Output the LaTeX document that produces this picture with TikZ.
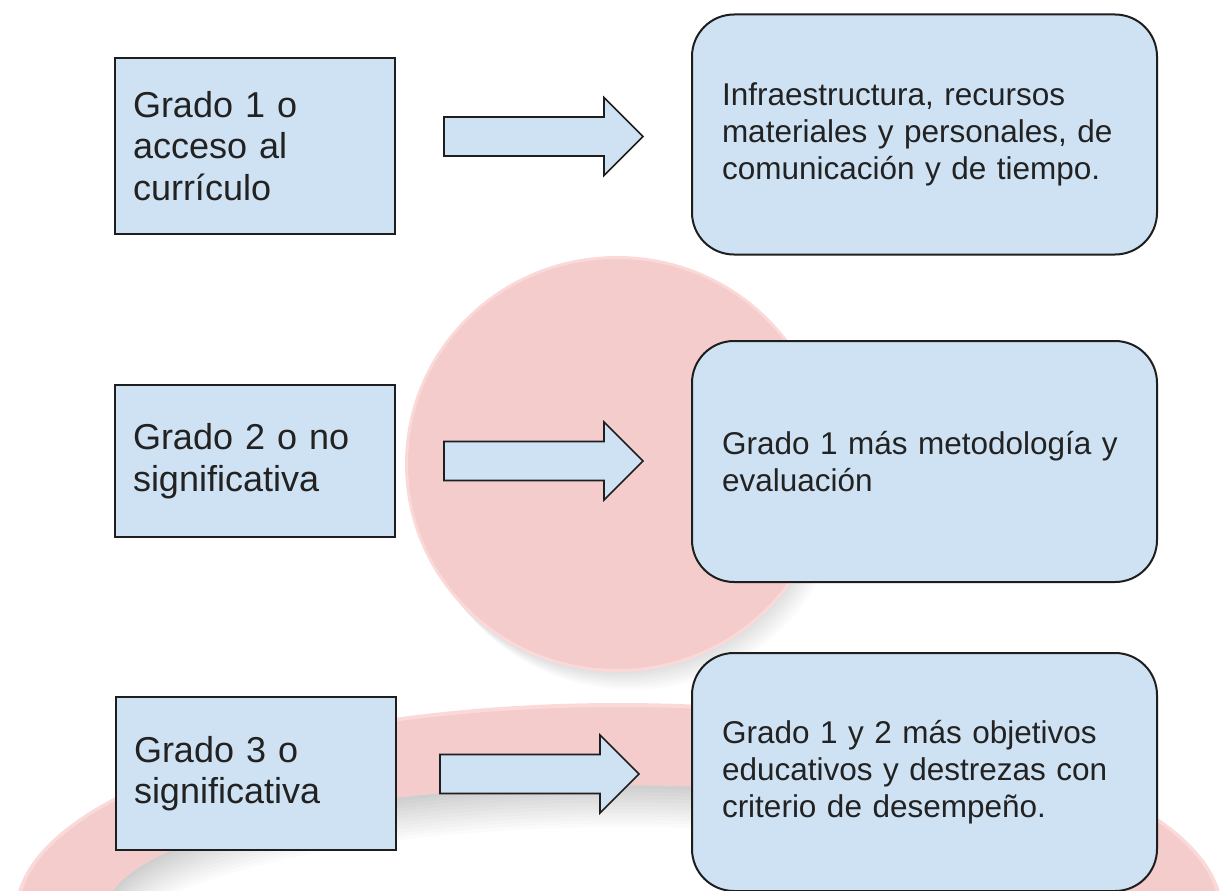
\documentclass[tikz,border=0pt]{standalone}
\usepackage{fontspec}
\setmainfont{Liberation Sans}
\definecolor{boxblue}{HTML}{CFE2F3}
\definecolor{pinkfill}{HTML}{F4CCCC}
\definecolor{pinkrim}{HTML}{FBD9D9}
\definecolor{edgec}{HTML}{1E1E1E}
\definecolor{textc}{HTML}{222222}
\tikzset{
  leftbox/.style={draw=edgec, line width=1.6pt, fill=boxblue, rectangle,
    align=left, inner xsep=18pt, inner ysep=0pt, text width=244pt,
    text=textc, font=\fontsize{36pt}{41.4pt}\selectfont},
  rightbox/.style={draw=edgec, line width=2pt, fill=boxblue, rectangle,
    rounded corners=42pt, align=left, inner xsep=30pt, inner ysep=0pt,
    text width=405pt, text=textc, font=\fontsize{31.5pt}{37pt}\selectfont},
  arrowbody/.style={draw=edgec, line width=1.6pt, fill=boxblue, line join=miter},
  pics/blockarrow/.style={code={
    \draw[arrowbody] (0,-19.5) -- (160,-19.5) -- (160,-39) -- (199,0)
      -- (160,39) -- (160,19.5) -- (0,19.5) -- cycle;
  }}
}
\begin{document}
\begin{tikzpicture}[x=1pt,y=-1pt]
\useasboundingbox (0,0) rectangle (1231,891);
\fill[white] (0,0) rectangle (1231,891);
\begin{scope}
\clip (0,0) rectangle (1231,891);
% shadow of the middle circle
\foreach \k in {1,...,10}
  \fill[black, fill opacity=0.012] ({617+1.5*\k},{464+1.8*\k}) ellipse [x radius=212pt, y radius=208pt];
\coordinate (circc) at (617,464);
\fill[pinkrim] (circc) ellipse [x radius=212pt, y radius=208pt];
\fill[pinkfill] (circc) ellipse [x radius=209pt, y radius=205pt];
% shadow of the ring
\foreach \k in {1,...,12}
  \fill[black, fill opacity=0.014, even odd rule]
    ({619+0.6*\k},{913+3.5*\k}) ellipse [x radius=604pt, y radius=210pt]
    ({619+0.6*\k},{913+3.5*\k}) ellipse [x radius=514pt, y radius=128pt];
\coordinate (ringc) at (619,913);
\fill[pinkrim, even odd rule] (ringc) ellipse [x radius=604pt, y radius=210pt]
  (ringc) ellipse [x radius=514pt, y radius=128pt];
\fill[pinkfill, even odd rule] (ringc) ellipse [x radius=600pt, y radius=206pt]
  (ringc) ellipse [x radius=514pt, y radius=128pt];
% boxes
\node[leftbox, minimum height=176pt] (L1) at (255,146) {Grado 1 o\\acceso al\\currículo};
\node[leftbox, minimum height=152pt] (L2) at (255,461) {Grado 2 o no\\significativa};
\node[leftbox, minimum height=153pt] (L3) at (256,773.5) {Grado 3 o\\significativa};
\node[rightbox, minimum height=240pt] (R1) at (924.5,134.5) {Infraestructura, recursos\\materiales y personales, de\\comunicación y de tiempo.};
\node[rightbox, minimum height=241pt] (R2) at (924.5,461.5) {Grado 1 más metodología y\\evaluación};
\node[rightbox, minimum height=238pt] (R3) at (924.5,772) {Grado 1 y 2 más objetivos\\educativos y destrezas con\\criterio de desempeño.};
% block arrows
\pic (A1) at (444,136.5) {blockarrow};
\pic (A2) at (444,461) {blockarrow};
\pic (A3) at (440,774) {blockarrow};
\end{scope}
\end{tikzpicture}
\end{document}
